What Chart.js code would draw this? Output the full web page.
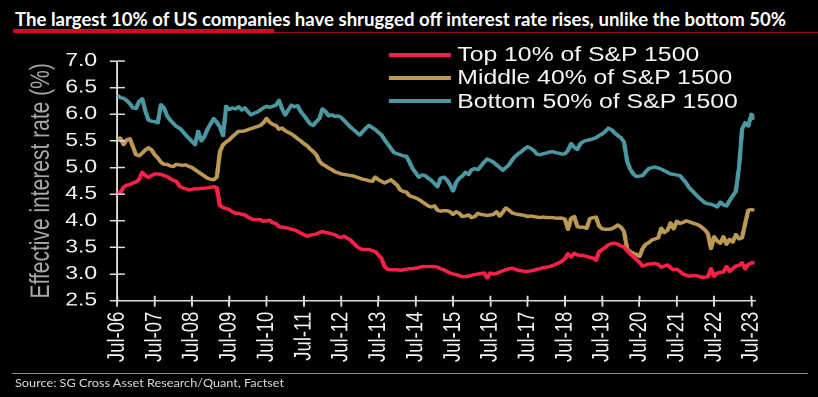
<!DOCTYPE html>
<html>
<head>
<meta charset="utf-8">
<script src="https://cdn.jsdelivr.net/npm/chart.js@4.4.0/dist/chart.umd.min.js"></script>
<style>
  html, body { margin: 0; padding: 0; background: #000; }
  #page { position: relative; width: 818px; height: 397px; overflow: hidden; background: #000; }
  #title { position: absolute; left: 15px; top: 10px; white-space: nowrap; color: #fff;
    font: bold 18px Lato, "Liberation Sans Narrow", sans-serif; line-height: 18px; transform-origin: 0 0; }
  #bar { position: absolute; left: 13px; top: 29px; width: 261px; height: 4px; background: #e4001b; }
  #rule { position: absolute; left: 274px; top: 32px; width: 544px; height: 1px; background: #9a0010; }
  #plot { position: absolute; left: 0; top: 0; width: 644px; height: 397px; transform: scaleX(1.2702); transform-origin: 0 0; }
  #legend { position: absolute; left: 306px; top: 43px; font: 19.5px "Liberation Sans", Arial, sans-serif; color: #f5f5f5; }
  .item { height: 23.3px; display: flex; align-items: center; white-space: nowrap; }
  .swatch { width: 49px; height: 4px; margin-right: 5px; }
  #foot { position: absolute; left: 12px; top: 373px; width: 796px; height: 1px; background: #8c8c8c; }
  #source { position: absolute; left: 15px; top: 377px; white-space: nowrap; color: #d8d8d8;
    font: 12px Lato, "Liberation Sans Narrow", sans-serif; line-height: 12px; transform-origin: 0 0; }
</style>
</head>
<body>
<div id="page">
  <div id="title">The largest 10% of US companies have shrugged off interest rate rises, unlike the bottom 50%</div>
  <div id="bar"></div>
  <div id="rule"></div>
  <div id="plot">
    <canvas id="chart" width="644" height="397"></canvas>
    <div id="legend"></div>
  </div>
  <div id="foot"></div>
  <div id="source">Source: SG Cross Asset Research/Quant, Factset</div>
</div>
<script>
// monthly, Jul-06 .. Aug-23
const tickLabels = ['Jul-06', 'Jul-07', 'Jul-08', 'Jul-09', 'Jul-10', 'Jul-11', 'Jul-12', 'Jul-13', 'Jul-14',
  'Jul-15', 'Jul-16', 'Jul-17', 'Jul-18', 'Jul-19', 'Jul-20', 'Jul-21', 'Jul-22', 'Jul-23'];

const seriesNames = ['Top 10% of S&P 1500', 'Middle 40% of S&P 1500', 'Bottom 50% of S&P 1500'];
const seriesColors = ['#fa2048', '#bb9955', '#4b97a2'];

const top10 = [
  4.54, 4.53, 4.63, 4.67, 4.68, 4.71, 4.73, 4.78, 4.91, 4.85,
  4.81, 4.85, 4.88, 4.88, 4.87, 4.85, 4.83, 4.79, 4.76, 4.74,
  4.65, 4.62, 4.60, 4.58, 4.59, 4.60, 4.60, 4.61, 4.61, 4.62,
  4.63, 4.64, 4.62, 4.28, 4.25, 4.23, 4.21, 4.17, 4.14, 4.14,
  4.12, 4.11, 4.07, 4.04, 4.02, 4.02, 4.02, 3.99, 4.00, 4.01,
  3.96, 3.95, 3.89, 3.88, 3.87, 3.86, 3.84, 3.83, 3.80, 3.77,
  3.74, 3.71, 3.73, 3.74, 3.75, 3.78, 3.80, 3.78, 3.77, 3.75,
  3.74, 3.70, 3.69, 3.71, 3.67, 3.64, 3.58, 3.52, 3.48, 3.46,
  3.46, 3.46, 3.44, 3.42, 3.36, 3.29, 3.14, 3.09, 3.08, 3.08,
  3.08, 3.07, 3.08, 3.09, 3.10, 3.10, 3.11, 3.12, 3.14, 3.14,
  3.14, 3.14, 3.14, 3.13, 3.10, 3.08, 3.05, 3.02, 3.00, 2.99,
  2.97, 2.95, 2.95, 2.96, 2.98, 2.99, 3.00, 3.01, 3.02, 2.93,
  3.02, 3.00, 3.01, 3.04, 3.06, 3.08, 3.10, 3.11, 3.09, 3.07,
  3.06, 3.05, 3.05, 3.06, 3.07, 3.09, 3.10, 3.12, 3.13, 3.14,
  3.16, 3.18, 3.21, 3.24, 3.29, 3.38, 3.32, 3.39, 3.36, 3.35,
  3.35, 3.33, 3.31, 3.30, 3.26, 3.42, 3.46, 3.50, 3.55, 3.57,
  3.58, 3.56, 3.53, 3.51, 3.44, 3.38, 3.33, 3.27, 3.22, 3.15,
  3.17, 3.19, 3.19, 3.20, 3.18, 3.13, 3.15, 3.17, 3.12, 3.08,
  3.09, 3.05, 3.00, 2.98, 2.96, 2.97, 2.97, 2.96, 2.94, 2.94,
  2.95, 3.10, 2.96, 3.02, 3.03, 3.04, 3.14, 3.05, 3.10, 3.15,
  3.16, 3.21, 3.10, 3.18, 3.21, 3.21
];

const middle40 = [
  5.55, 5.55, 5.43, 5.52, 5.54, 5.39, 5.24, 5.22, 5.27, 5.33,
  5.37, 5.33, 5.24, 5.18, 5.10, 5.06, 5.06, 5.03, 5.02, 5.06,
  5.05, 5.04, 5.05, 5.02, 5.00, 4.96, 4.92, 4.88, 4.84, 4.80,
  4.78, 4.77, 4.82, 5.30, 5.43, 5.48, 5.52, 5.58, 5.63, 5.68,
  5.68, 5.69, 5.71, 5.73, 5.75, 5.77, 5.79, 5.84, 5.92, 5.85,
  5.81, 5.79, 5.72, 5.74, 5.69, 5.66, 5.63, 5.59, 5.54, 5.50,
  5.45, 5.41, 5.35, 5.30, 5.24, 5.12, 5.06, 5.03, 4.99, 4.96,
  4.92, 4.90, 4.88, 4.87, 4.86, 4.85, 4.84, 4.82, 4.80, 4.78,
  4.77, 4.75, 4.74, 4.82, 4.77, 4.74, 4.71, 4.74, 4.77, 4.72,
  4.67, 4.58, 4.55, 4.54, 4.47, 4.45, 4.43, 4.40, 4.36, 4.32,
  4.28, 4.26, 4.28, 4.20, 4.18, 4.19, 4.19, 4.17, 4.12, 4.17,
  4.14, 4.08, 4.09, 4.11, 4.06, 4.08, 4.14, 4.12, 4.11, 4.10,
  4.11, 4.12, 4.17, 4.09, 4.16, 4.24, 4.20, 4.15, 4.13, 4.12,
  4.11, 4.10, 4.08, 4.09, 4.08, 4.07, 4.06, 4.07, 4.06, 4.06,
  4.06, 4.05, 4.05, 4.05, 4.03, 3.84, 4.05, 4.08, 3.89, 3.88,
  3.88, 3.86, 4.04, 4.06, 4.07, 3.90, 3.85, 3.84, 3.84, 3.85,
  3.88, 3.92, 3.88, 3.80, 3.47, 3.42, 3.39, 3.37, 3.33, 3.48,
  3.56, 3.59, 3.64, 3.66, 3.68, 3.86, 3.78, 3.82, 3.96, 3.85,
  3.99, 3.95, 3.97, 4.00, 3.98, 3.96, 3.94, 3.92, 3.88, 3.83,
  3.76, 3.48, 3.70, 3.62, 3.58, 3.70, 3.56, 3.65, 3.60, 3.74,
  3.66, 3.68, 3.95, 4.20, 4.21, 4.20
];

const bottom50 = [
  6.36, 6.31, 6.30, 6.26, 6.20, 6.12, 6.11, 6.24, 6.29, 6.06,
  5.89, 5.87, 5.86, 5.84, 6.18, 6.12, 5.97, 5.89, 5.83, 5.77,
  5.74, 5.68, 5.61, 5.55, 5.49, 5.43, 5.68, 5.50, 5.58, 5.72,
  5.82, 5.92, 5.85, 5.76, 5.60, 6.15, 6.09, 6.12, 6.10, 6.14,
  6.08, 6.12, 6.05, 5.99, 6.02, 6.04, 6.08, 6.12, 6.15, 6.13,
  6.15, 6.17, 6.26, 6.10, 5.99, 6.08, 6.17, 6.14, 6.16, 6.05,
  5.98, 5.90, 5.82, 5.79, 5.86, 5.92, 6.10, 6.05, 5.97, 5.99,
  5.96, 5.97, 5.94, 5.88, 5.82, 5.76, 5.71, 5.66, 5.61, 5.68,
  5.74, 5.79, 5.75, 5.71, 5.66, 5.61, 5.52, 5.44, 5.36, 5.28,
  5.26, 5.24, 5.22, 5.21, 5.10, 4.98, 4.90, 4.82, 4.86, 4.85,
  4.80, 4.76, 4.70, 4.64, 4.80, 4.82, 4.77, 4.68, 4.56, 4.72,
  4.80, 4.84, 4.91, 4.87, 4.96, 4.98, 4.96, 5.03, 5.10, 5.16,
  5.13, 5.10, 5.05, 5.00, 4.95, 5.00, 5.05, 5.14, 5.21, 5.26,
  5.30, 5.35, 5.39, 5.36, 5.32, 5.25, 5.24, 5.26, 5.27, 5.29,
  5.30, 5.28, 5.27, 5.25, 5.26, 5.32, 5.45, 5.38, 5.34, 5.45,
  5.49, 5.51, 5.52, 5.54, 5.56, 5.60, 5.63, 5.68, 5.74, 5.71,
  5.65, 5.60, 5.56, 5.48, 5.12, 4.97, 4.88, 4.83, 4.84, 4.85,
  4.92, 4.98, 5.00, 5.01, 4.99, 4.97, 4.94, 4.91, 4.88, 4.87,
  4.86, 4.85, 4.78, 4.71, 4.62, 4.56, 4.50, 4.44, 4.39, 4.34,
  4.32, 4.31, 4.29, 4.26, 4.35, 4.30, 4.28, 4.38, 4.47, 4.55,
  5.00, 5.72, 5.84, 5.78, 6.00, 5.90
];

const axisColor = '#dcdcdc';
const font = '"Liberation Sans", Arial, sans-serif';

// small tick stubs on the inner side of both axes
const innerTicks = {
  id: 'innerTicks',
  afterDraw(chart) {
    const { ctx, chartArea, scales } = chart;
    ctx.save();
    ctx.strokeStyle = axisColor;
    ctx.lineWidth = 1.5;
    ctx.beginPath();
    scales.x.ticks.forEach(t => {
      const px = scales.x.getPixelForValue(t.value);
      ctx.moveTo(px, chartArea.bottom);
      ctx.lineTo(px, chartArea.bottom - 5);
    });
    scales.y.ticks.forEach(t => {
      const py = scales.y.getPixelForValue(t.value);
      ctx.moveTo(chartArea.left, py);
      ctx.lineTo(chartArea.left + 6, py);
    });
    ctx.stroke();
    ctx.restore();
  }
};

const seriesData = [top10, middle40, bottom50];

const chart = new Chart(document.getElementById('chart'), {
  type: 'line',
  data: {
    datasets: seriesData.map((vals, k) => ({
      label: seriesNames[k],
      data: vals.map((v, i) => ({ x: i, y: v })),
      borderColor: seriesColors[k],
      borderWidth: 3.4,
      pointRadius: 0,
      tension: 0,
      borderJoinStyle: 'round',
      fill: false
    }))
  },
  options: {
    responsive: false,
    animation: false,
    devicePixelRatio: 2,
    layout: { padding: { top: 61, left: 0, right: 50, bottom: 0 } },
    plugins: { legend: { display: false }, tooltip: { enabled: false } },
    scales: {
      x: {
        type: 'linear',
        min: 0,
        max: 205,
        afterBuildTicks: scale => { scale.ticks = tickLabels.map((_, i) => ({ value: i * 12 })); },
        afterFit: scale => { scale.height = 96.3; },
        ticks: {
          autoSkip: false,
          minRotation: 90,
          maxRotation: 90,
          padding: 5,
          color: '#f2f2f2',
          font: { family: font, size: 18.5 },
          callback: (v, i) => tickLabels[i]
        },
        grid: { drawOnChartArea: false, drawTicks: true, tickLength: 6, color: axisColor, lineWidth: 1.5 },
        border: { color: axisColor, width: 1.5 }
      },
      y: {
        min: 2.5,
        max: 7.0,
        afterFit: scale => { scale.width = 92.4; },
        ticks: {
          stepSize: 0.5,
          padding: 10,
          color: '#f2f2f2',
          font: { family: font, size: 18 },
          callback: v => v.toFixed(1)
        },
        title: {
          display: true,
          text: 'Effective interest rate (%)',
          color: '#a8a8a8',
          font: { family: font, size: 21 },
          padding: { top: 20, bottom: 0 }
        },
        grid: { drawOnChartArea: false, drawTicks: true, tickLength: 6, color: axisColor, lineWidth: 1.5 },
        border: { color: axisColor, width: 1.5 }
      }
    }
  },
  plugins: [innerTicks]
});

// legend as html, built from the datasets
const legend = document.getElementById('legend');
chart.data.datasets.forEach(ds => {
  const row = document.createElement('div');
  row.className = 'item';
  const sw = document.createElement('span');
  sw.className = 'swatch';
  sw.style.background = ds.borderColor;
  const txt = document.createElement('span');
  txt.textContent = ds.label;
  row.appendChild(sw);
  row.appendChild(txt);
  legend.appendChild(row);
});

// squeeze the condensed header / footer text to their widths in the picture
function fitWidth(id, target) {
  const el = document.getElementById(id);
  const w = el.getBoundingClientRect().width;
  el.style.transform = 'scaleX(' + (target / w) + ')';
}
fitWidth('title', 771);
fitWidth('source', 269);
</script>
</body>
</html>
